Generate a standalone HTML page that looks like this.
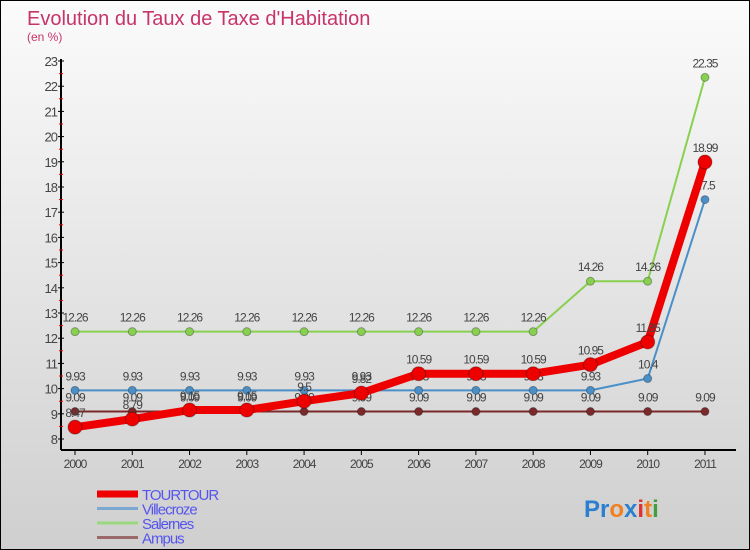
<!DOCTYPE html>
<html><head><meta charset="utf-8"><style>
body{margin:0}
#c{width:748px;height:548px;border:1px solid #000;background:linear-gradient(#fbfbfb,#cfcfcf);position:relative;font-family:"Liberation Sans",sans-serif;overflow:hidden}
</style></head><body>
<div id="c">
<svg width="748" height="548" id="s"></svg>
</div>
<script>
const years=["2000","2001","2002","2003","2004","2005","2006","2007","2008","2009","2010","2011"];
const tourtour=[8.47,8.79,9.15,9.15,9.5,9.82,10.59,10.59,10.59,10.95,11.85,18.99];
const villecroze=[9.93,9.93,9.93,9.93,9.93,9.93,9.93,9.93,9.93,9.93,10.4,17.5];
const salernes=[12.26,12.26,12.26,12.26,12.26,12.26,12.26,12.26,12.26,14.26,14.26,22.35];
const ampus=[9.09,9.09,9.09,9.09,9.09,9.09,9.09,9.09,9.09,9.09,9.09,9.09];
const yTicks=[8,9,10,11,12,13,14,15,16,17,18,19,20,21,22,23];
const NS="http://www.w3.org/2000/svg",s=document.getElementById('s');
const X=i=>74+i*57.27, Y=v=>438-(v-8)*25.2;
function mk(t,a,txt){const e=document.createElementNS(NS,t);for(const k in a)e.setAttribute(k,a[k]);if(txt!==undefined)e.textContent=txt;s.appendChild(e);return e;}
let e;
e=mk('text',{x:26,y:24,'font-size':20,fill:'#c8336a'},"Evolution du Taux de Taxe d'Habitation");


e=mk('text',{x:26,y:40,'font-size':12,fill:'#c8336a'},"(en %)");


e=mk('line',{x1:60,y1:58,x2:60,y2:449,stroke:'#000','stroke-width':2});


e=mk('line',{x1:60,y1:449,x2:735,y2:449,stroke:'#000','stroke-width':2});


yTicks.forEach(v=>{
 mk('line',{x1:57,y1:Y(v),x2:63,y2:Y(v),stroke:'#000'});
 if(v<23)mk('line',{x1:58,y1:Y(v+0.5),x2:62,y2:Y(v+0.5),stroke:'#e00'});
 e=mk('text',{x:56,y:Y(v)+5,'font-size':13,fill:'#444','text-anchor':'end','letter-spacing':'-1'},v);
 
 
});
years.forEach((y,i)=>{
 mk('line',{x1:X(i),y1:449,x2:X(i),y2:454,stroke:'#000'});
 e=mk('text',{x:X(i),y:467,'font-size':12,fill:'#444','text-anchor':'middle','letter-spacing':'-1'},y);
 
 
});
function series(d,col,w,r,name){
 e=mk('polyline',{points:d.map((v,i)=>X(i)+','+Y(v)).join(' '),fill:'none',stroke:col,'stroke-width':w,'stroke-linejoin':'round'});
 
 
 d.forEach((v,i)=>{
  e=mk('circle',{cx:X(i),cy:Y(v),r:r,fill:col,stroke:'rgba(0,0,0,0.3)'});
  
  
  e=mk('text',{x:X(i),y:Y(v)-10,'font-size':12,fill:'#444','text-anchor':'middle','letter-spacing':'-1'},v);
  
  
 });
}
series(ampus,'#7a2a2a',2,4,'ampus');
series(villecroze,'#4a8fc8',2,4,'villecroze');
series(salernes,'#88d050',2,4,'salernes');
series(tourtour,'#ee0000',8,7,'tourtour');
const leg=[["TOURTOUR","#ee0000",7],["Villecroze","#7aa8d0",3],["Salernes","#9ad880",3],["Ampus","#9a6a6a",3]];
leg.forEach((l,i)=>{
 const y=493+i*14.5;
 e=mk('line',{x1:96,y1:y,x2:137,y2:y,stroke:l[1],'stroke-width':l[2]});
 
 
 e=mk('text',{x:141,y:y+6,'font-size':15,fill:'#5555ee','letter-spacing':'-1'},l[0]);
 
 
});
e=mk('text',{x:583,y:516,'font-size':24,'font-weight':'bold'});


[["Pr","#2a7fd0"],["o","#f08020"],["x","#2a7fd0"],["i","#e03030"],["t","#f08020"],["i","#40a040"]].forEach(p=>{const t=document.createElementNS(NS,'tspan');t.setAttribute('fill',p[1]);t.textContent=p[0];e.appendChild(t);});
</script>
</body></html>
